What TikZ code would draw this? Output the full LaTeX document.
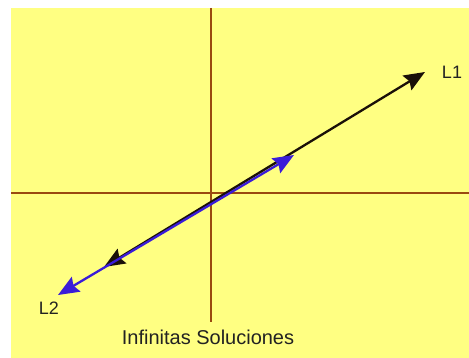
\documentclass[tikz,border=0pt]{standalone}
\usepackage{fontspec}
\setmainfont{Liberation Sans}
\usetikzlibrary{arrows.meta,positioning}
\definecolor{cpanel}{HTML}{FFFF82}
\definecolor{caxis}{HTML}{9A4A10}
\definecolor{cline}{HTML}{1A1008}
\definecolor{cblue}{HTML}{3A1CD8}
\definecolor{ctext}{HTML}{222222}

\begin{document}
\begin{tikzpicture}[
    x=1pt, y=-1pt,
    axis/.style={draw=caxis, line width=1.3pt},
    tip/.style={{Stealth[length=21pt,width=17pt,inset=3pt]}-{Stealth[length=21pt,width=17pt,inset=3pt]}},
    lone/.style={draw=cline, line width=2.3pt, tip},
    ltwo/.style={draw=cblue, line width=2.3pt, tip},
    lab/.style={text=ctext, font=\fontsize{18}{21}\selectfont, inner sep=0pt}
]
\useasboundingbox (0,0) rectangle (469,358);
\fill[cpanel] (11,8) rectangle (469,358);
% axes
\coordinate (top) at (211,8);
\coordinate (bot) at (211,322);
\coordinate (left) at (11,193);
\coordinate (right) at (469,193);
\draw[axis] (top) -- (bot);
\draw[axis] (left) -- (right);
% the two lines, one over the other
\coordinate (a1) at (104,267);
\coordinate (b1) at (425,72);
\coordinate (a2) at (58,295);
\coordinate (b2) at (294,155);
\draw[lone] (a1) -- (b1);
\draw[ltwo] (a2) -- (b2);
\node[lab] (l1) at (452,72) {L1};
\node[lab] (l2) at (49,308) {L2};
\node[lab, font=\fontsize{20}{24}\selectfont] (sol) at (208,337) {Infinitas Soluciones};
\end{tikzpicture}
\end{document}
